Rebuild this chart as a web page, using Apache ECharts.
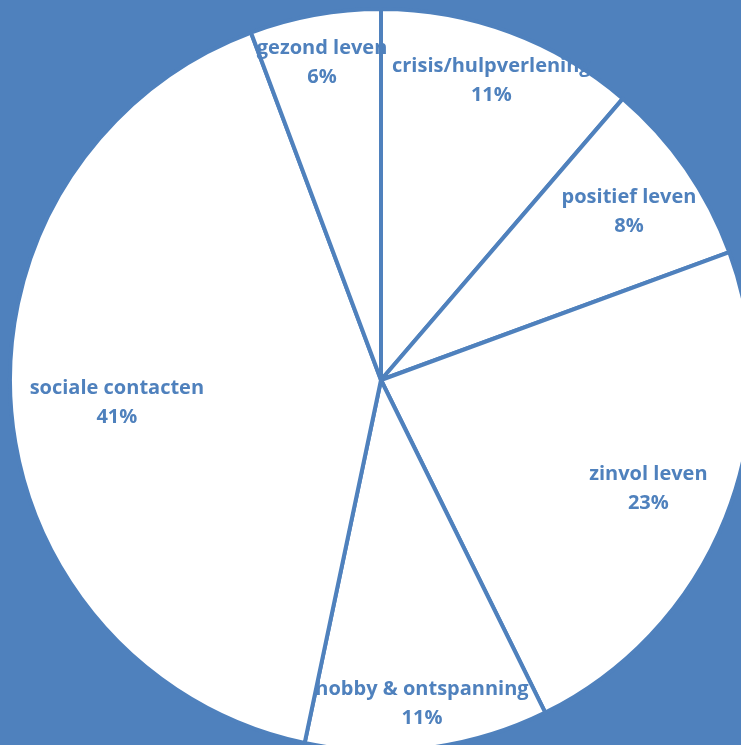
<!DOCTYPE html>
<html>
<head>
<meta charset="utf-8">
<script src="https://cdn.jsdelivr.net/npm/echarts@6/dist/echarts.min.js"></script>
<style>
  html, body { margin: 0; padding: 0; background: #4f81bd; }
  #chart { width: 741px; height: 745px; }
</style>
</head>
<body>
<div id="chart"></div>
<script>
var categories = ["crisis/hulpverlening", "positief leven", "zinvol leven",
  "hobby & ontspanning", "sociale contacten", "gezond leven"];
var values = [11.3, 8.1, 23.3, 10.6, 41.0, 5.7];

// small nudges so labels sit where the original placed them
var labelOffsets = [[5, -15], [-1, 4], [-14, -4], [3, 23], [38, 0], [-5, -19]];

var blue = "#4f81bd";
var chart = echarts.init(document.getElementById("chart"), null, { renderer: "canvas" });

var pieData = categories.map(function (name, i) {
  return { name: name, value: values[i] };
});
var labelData = categories.map(function (name, i) {
  return { name: name, value: values[i], label: { offset: labelOffsets[i] } };
});

chart.setOption({
  backgroundColor: blue,
  animation: false,
  series: [
    {
      type: "pie",
      center: [381, 380],
      radius: [0, 371],
      startAngle: 90,
      clockwise: true,
      silent: true,
      label: { show: false },
      labelLine: { show: false },
      itemStyle: { color: "#ffffff", borderColor: blue, borderWidth: 4 },
      data: pieData,
      z: 1
    },
    {
      type: "pie",
      center: [381, 380],
      radius: [229, 371],
      startAngle: 90,
      clockwise: true,
      silent: true,
      itemStyle: { color: "rgba(0,0,0,0)", borderWidth: 0 },
      labelLine: { show: false },
      label: {
        show: true,
        position: "inside",
        color: blue,
        fontFamily: "'Open Sans', sans-serif",
        fontWeight: "bold",
        fontSize: 20,
        lineHeight: 29,
        align: "center",
        formatter: function (p) {
          return p.name + "\n" + Math.round(p.percent) + "%";
        }
      },
      data: labelData,
      z: 3
    }
  ]
});
</script>
</body>
</html>
